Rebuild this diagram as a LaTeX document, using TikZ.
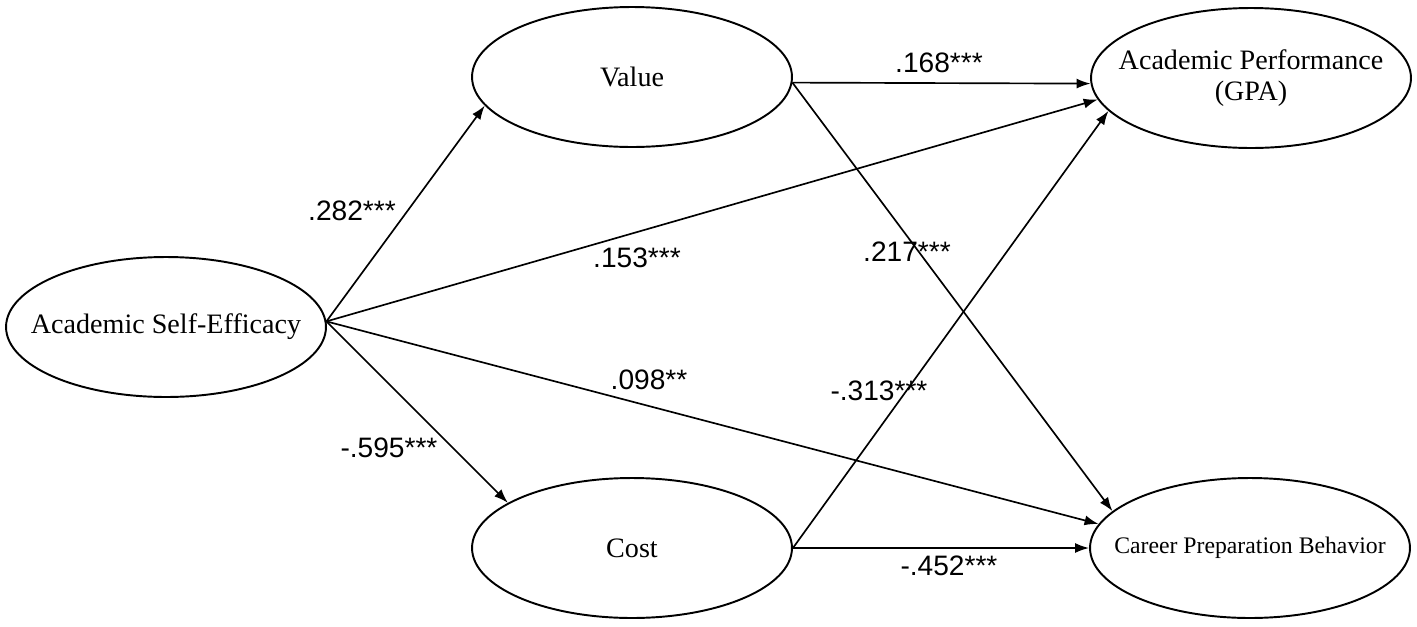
\documentclass[tikz,border=0pt]{standalone}
\usepackage{fontspec}
\setmainfont{Liberation Serif}
\setsansfont{Liberation Sans}
\usetikzlibrary{shapes.geometric,arrows.meta}

\begin{document}
\begin{tikzpicture}[
    x=0.02cm, y=-0.02cm,
    latent/.style={ellipse, draw, line width=1.1pt,
                   minimum width=6.4cm, minimum height=2.8cm,
                   inner sep=0pt},
    vname/.style={font=\fontsize{16}{18}\selectfont, align=center},
    coef/.style={font=\sffamily\fontsize{16}{19}\selectfont, inner sep=0pt},
    effect/.style={-{Latex[length=2.8mm,width=2mm]}, line width=0.95pt}
]
\useasboundingbox (0,0) rectangle (1417,626);

\node[latent] (ase) at (166,327) {};
\node[latent] (val) at (632,77) {};
\node[latent] (cost) at (632,548) {};
\node[latent] (ap) at (1251,78) {};
\node[latent] (cpb) at (1250,548) {};

\node[vname] (asetxt) at (ase) {Academic Self-Efficacy};
\node[vname] (valtxt) at (val) {Value};
\node[vname] (costtxt) at (cost) {Cost};
\node[vname] (aptxt) at (ap) {Academic Performance\\(GPA)};
\node[vname, font=\fontsize{13.5}{16}\selectfont] (cpbtxt) at (cpb) {Career Preparation Behavior};

% paths
\draw[effect] (ase.2) -- (val.191);
\draw[effect] (ase.2) -- (cost.160);
\draw[effect] (ase.2) -- (ap.188);
\draw[effect] (ase.2) -- (cpb.171);
\draw[effect] (val.-2) -- (ap.182);
\draw[effect] (val.-2) -- (cpb.165);
\draw[effect] (cost.east) -- (ap.193);
\draw[effect] (cost.east) -- (cpb.west);

% coefficients
\node[coef] (c1) at (352,211) {.282***};
\node[coef] (c2) at (389,448) {-.595***};
\node[coef] (c3) at (637,258) {.153***};
\node[coef] (c4) at (649,380) {.098**};
\node[coef] (c5) at (939,63) {.168***};
\node[coef] (c6) at (907,252) {.217***};
\node[coef] (c7) at (879,391) {-.313***};
\node[coef] (c8) at (949,566) {-.452***};
\end{tikzpicture}
\end{document}
